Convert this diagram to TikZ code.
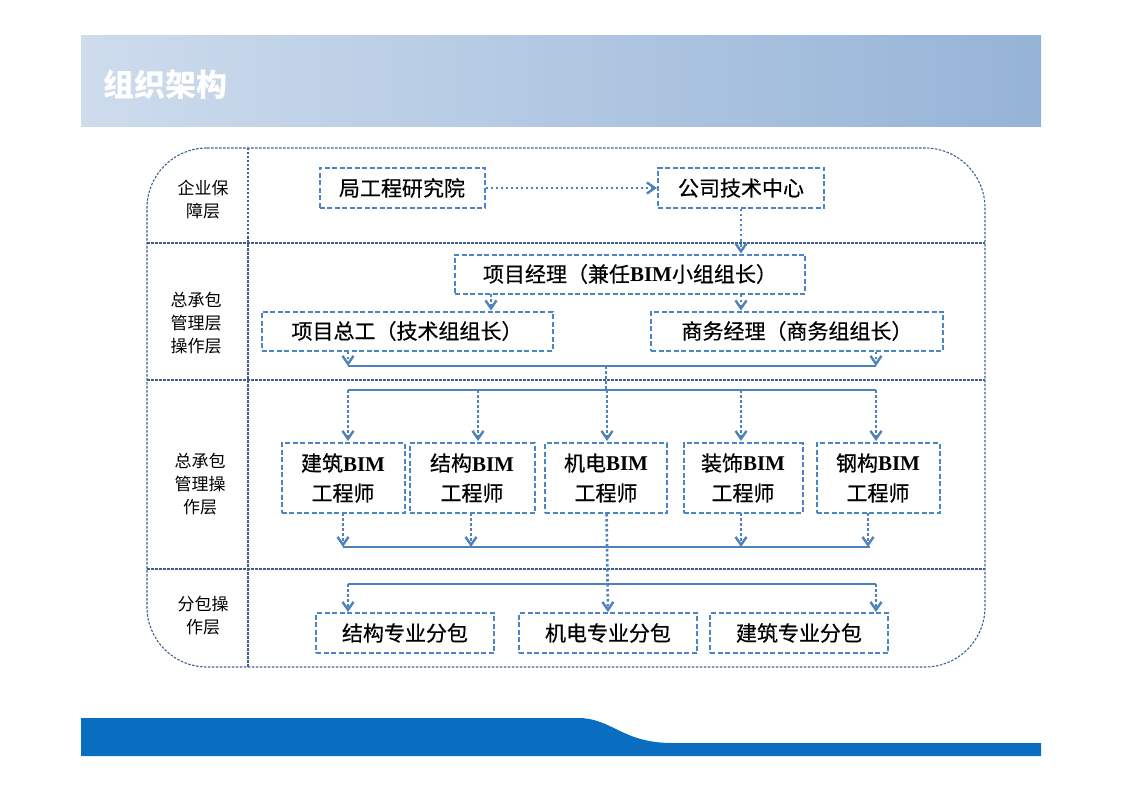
\documentclass[tikz,border=0pt]{standalone}
\usepackage{fontspec}
\setmainfont{Noto Sans CJK SC}
\newfontfamily\boxfont[FakeBold=0.5]{Noto Sans CJK SC}
\newfontfamily\bimfont{Liberation Serif}
\usetikzlibrary{arrows.meta}
\definecolor{boxblue}{HTML}{4A86C5}
\definecolor{lineblue}{HTML}{4F81BD}
\definecolor{framegray}{HTML}{3F5F8F}
\definecolor{bandblue}{HTML}{0A6EC0}
\newcommand{\BIM}{{\bimfont\bfseries BIM}}
\tikzset{
	every box/.style={draw=boxblue, line width=2pt, dash pattern=on 5pt off 2.5pt, inner sep=0pt, align=center, font=\fontsize{21}{30}\boxfont},
	layer label/.style={align=center, font=\fontsize{17}{23}\selectfont},
	divider/.style={draw=framegray, line width=1.1pt, dash pattern=on 2.5pt off 1.5pt},
	flow/.style={draw=lineblue, line width=2.6pt, dash pattern=on 2.5pt off 2.5pt, -{Straight Barb[length=8pt,width=11pt,line width=2.4pt]}},
	bus/.style={draw=lineblue, line width=2.6pt}
}
\begin{document}
\begin{tikzpicture}[x=1pt, y=-1pt]
\useasboundingbox (0,0) rectangle (1123,794);

%header and footer bands
\shade[left color=white!20!lineblue!35, right color=lineblue!60] (81,36) rectangle (1041,127);
\node [text=white, font=\fontsize{31}{36}\selectfont\bfseries, anchor=west] (title) at (100,85) {组织架构};
\fill[bandblue] (81,718) -- (578,718) .. controls (612,718) and (622,743) .. (672,743) -- (1041,743) -- (1041,756) -- (81,756) -- cycle;

%frame of the layers
\draw[divider] (147,148) [rounded corners=60pt] -- (985,148) -- (985,667) -- (147,667) -- cycle;
\draw[divider] (248,148) -- (248,667);
\foreach \y in {243,380,569}
	\draw[divider] (147,\y) -- (985,\y);

\node [layer label] (layer-1) at (203,200) {企业保\\障层};
\node [layer label] (layer-2) at (196,323) {总承包\\管理层\\操作层};
\node [layer label] (layer-3) at (200,484) {总承包\\管理操\\作层};
\node [layer label] (layer-4) at (203,616) {分包操\\作层};

%boxes
\node [every box, minimum width=165pt, minimum height=40pt] (institute) at (402,188) {局工程研究院};
\node [every box, minimum width=166pt, minimum height=40pt] (center) at (741,188) {公司技术中心};
\node [every box, minimum width=350pt, minimum height=39pt] (manager) at (630,274) {项目经理（兼任\BIM 小组组长）};
\node [every box, minimum width=291pt, minimum height=39pt] (chief) at (407,331) {项目总工（技术组组长）};
\node [every box, minimum width=292pt, minimum height=39pt] (business) at (797,331) {商务经理（商务组组长）};

\foreach \l/\x/\w [count=\i] in {建筑/343/123, 结构/472/125, 机电/606/122, 装饰/743/119, 钢构/878/123}
	\node [every box, minimum width=\w pt, minimum height=70pt] (engineer-\i) at (\x,478) {\l\BIM\\工程师};

\foreach \l/\x [count=\i] in {结构/405, 机电/608, 建筑/799}
	\node [every box, minimum width=178pt, minimum height=40pt] (sub-\i) at (\x,633) {\l 专业分包};

%buses
\coordinate (bus-a-l) at (348,366); \coordinate (bus-a-r) at (876,366);
\coordinate (bus-b-l) at (348,390); \coordinate (bus-b-r) at (876,390);
\coordinate (bus-c-l) at (343,547); \coordinate (bus-c-r) at (870,547);
\coordinate (bus-d-l) at (348,584); \coordinate (bus-d-r) at (876,584);
\coordinate (split) at (491,294);
\foreach \b in {a,b,c,d}
	\draw[bus] (bus-\b-l) -- (bus-\b-r);

%drawing part
\draw[flow] (institute) -- (center);
\draw[flow] (center) -- (center |- manager.north);
\draw[flow] (split) -- (split |- chief.north);
\draw[flow] (manager.south -| center) -- (center |- business.north);
\draw[flow] (chief.south -| bus-a-l) -- (bus-a-l);
\draw[flow] (business.south -| bus-a-r) -- (bus-a-r);
\draw[flow, -] (engineer-3 |- bus-a-l) -- (engineer-3 |- bus-b-l);
\foreach \x in {348,478,607,741,876}
	\draw[flow] (\x,390) -- (\x,441);
\foreach \x in {343,471,741,868}
	\draw[flow] (\x,513) -- (\x,547);
\draw[flow] (engineer-3) -- (sub-2 |- sub-2.north);
\draw[flow] (bus-d-l) -- (bus-d-l |- sub-1.north);
\draw[flow] (bus-d-r) -- (bus-d-r |- sub-3.north);

\end{tikzpicture}
\end{document}
